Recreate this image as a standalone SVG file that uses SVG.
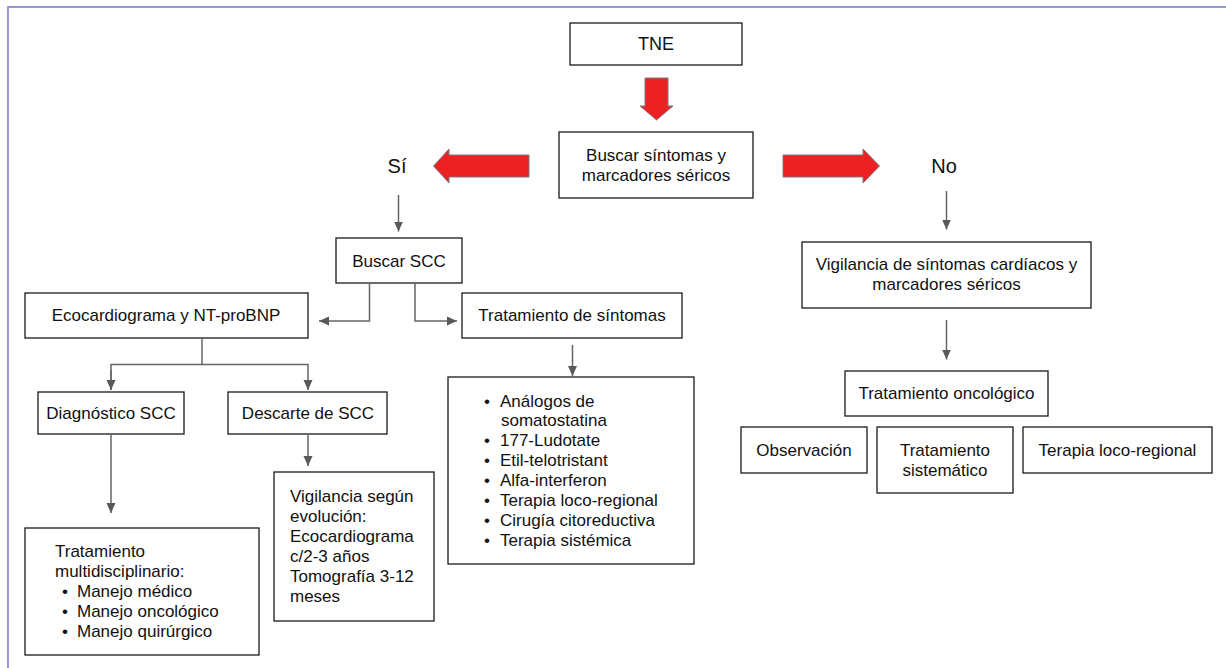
<svg xmlns="http://www.w3.org/2000/svg" width="1226" height="668" viewBox="0 0 1226 668">
<style>
.box{fill:#fff;stroke:#1a1a1a;stroke-width:1.3}
.t{font-family:"Liberation Sans",Arial,sans-serif;font-size:17px;fill:#111}
.c{text-anchor:middle}
.big{font-size:20px}
.red{fill:#ed2024;stroke:#7a7a7a;stroke-width:1}
.con{fill:none;stroke:#666;stroke-width:1.5}
</style>
<defs>
<marker id="ah" markerUnits="userSpaceOnUse" markerWidth="11" markerHeight="10" refX="10" refY="5" orient="auto">
<path d="M0,0.5 L10,5 L0,9.5 Z" fill="#595959"/>
</marker>
</defs>
<rect x="8" y="7" width="1240" height="690" fill="none" stroke="#8d8dd8" stroke-width="1.8"/>

<g id="tne">
<rect class="box" x="570" y="23" width="172" height="42"/>
<text class="t c" x="656" y="50" style="font-size:18px">TNE</text>
</g>
<g id="red-arrows">
<polygon class="red" points="645,78 668,78 668,106 673,106 656.5,120 640,106 645,106"/>
<polygon class="red" points="529,155 449,155 449,149 433.5,166 449,183 449,177 529,177"/>
<polygon class="red" points="783,155 863,155 863,149 879.5,166 863,183 863,177 783,177"/>
</g>
<g id="buscar">
<rect class="box" x="559" y="132" width="194" height="66"/>
<text class="t c" x="656" y="161">Buscar síntomas y</text>
<text class="t c" x="656" y="181">marcadores séricos</text>
</g>
<g id="si"><text class="t c big" x="397" y="173">Sí</text></g>
<g id="no"><text class="t c big" x="944" y="173">No</text></g>

<g id="buscar-scc">
<rect class="box" x="336" y="238" width="126" height="45"/>
<text class="t c" x="399" y="267">Buscar SCC</text>
</g>
<g id="eco">
<rect class="box" x="25" y="293" width="283" height="45"/>
<text class="t c" x="166" y="321">Ecocardiograma y NT-proBNP</text>
</g>
<g id="trat-sintomas">
<rect class="box" x="462" y="293" width="220" height="45"/>
<text class="t c" x="572" y="321">Tratamiento de síntomas</text>
</g>
<g id="diag">
<rect class="box" x="38" y="392" width="146" height="42"/>
<text class="t c" x="111" y="419">Diagnóstico SCC</text>
</g>
<g id="descarte">
<rect class="box" x="228" y="392" width="159" height="42"/>
<text class="t c" x="308" y="419">Descarte de SCC</text>
</g>
<g id="lista-sintomas">
<rect class="box" x="448" y="377" width="246" height="187"/>
<text class="t" x="484" y="407">•</text><text class="t" x="500" y="407">Análogos de</text>
<text class="t" x="501" y="426">somatostatina</text>
<text class="t" x="484" y="446">•</text><text class="t" x="500" y="446">177-Ludotate</text>
<text class="t" x="484" y="466">•</text><text class="t" x="500" y="466">Etil-telotristant</text>
<text class="t" x="484" y="486">•</text><text class="t" x="500" y="486">Alfa-interferon</text>
<text class="t" x="484" y="506">•</text><text class="t" x="500" y="506">Terapia loco-regional</text>
<text class="t" x="484" y="526">•</text><text class="t" x="500" y="526">Cirugía citoreductiva</text>
<text class="t" x="484" y="546">•</text><text class="t" x="500" y="546">Terapia sistémica</text>
</g>
<g id="multidisciplinario">
<rect class="box" x="25" y="528" width="234" height="127"/>
<text class="t" x="55" y="557">Tratamiento</text>
<text class="t" x="55" y="577">multidisciplinario:</text>
<text class="t" x="62" y="597">•</text><text class="t" x="77" y="597">Manejo médico</text>
<text class="t" x="62" y="617">•</text><text class="t" x="77" y="617">Manejo oncológico</text>
<text class="t" x="62" y="637">•</text><text class="t" x="77" y="637">Manejo quirúrgico</text>
</g>
<g id="vigilancia-evolucion">
<rect class="box" x="274" y="472" width="160" height="149"/>
<text class="t" x="290" y="502">Vigilancia según</text>
<text class="t" x="290" y="522">evolución:</text>
<text class="t" x="290" y="542">Ecocardiograma</text>
<text class="t" x="290" y="562">c/2-3 años</text>
<text class="t" x="290" y="582">Tomografía 3-12</text>
<text class="t" x="290" y="602">meses</text>
</g>
<g id="vigilancia-cardiaca">
<rect class="box" x="802" y="242" width="289" height="66"/>
<text class="t c" x="946.5" y="270">Vigilancia de síntomas cardíacos y</text>
<text class="t c" x="946.5" y="290">marcadores séricos</text>
</g>
<g id="trat-oncologico">
<rect class="box" x="845" y="371" width="203" height="45"/>
<text class="t c" x="946.5" y="399">Tratamiento oncológico</text>
</g>
<g id="observacion">
<rect class="box" x="741" y="427" width="126" height="46"/>
<text class="t c" x="804" y="456">Observación</text>
</g>
<g id="trat-sistematico">
<rect class="box" x="877" y="427" width="136" height="66"/>
<text class="t c" x="945" y="456">Tratamiento</text>
<text class="t c" x="945" y="476">sistemático</text>
</g>
<g id="terapia-loco">
<rect class="box" x="1023" y="427" width="189" height="46"/>
<text class="t c" x="1117.5" y="456">Terapia loco-regional</text>
</g>

<g id="connectors">
<path class="con" d="M398.5,195 V231.5" marker-end="url(#ah)"/>
<path class="con" d="M946.5,191 V229.5" marker-end="url(#ah)"/>
<path class="con" d="M369.5,283 V321 H319" marker-end="url(#ah)"/>
<path class="con" d="M415,283 V321 H457" marker-end="url(#ah)"/>
<path class="con" d="M202,338 V364.5"/>
<path class="con" d="M111,390 V364.5 H308 V390" marker-end="url(#ah)"/>
<path class="con" d="M111,370 V390" marker-end="url(#ah)"/>
<path class="con" d="M111,434 V513" marker-end="url(#ah)"/>
<path class="con" d="M308,434 V466" marker-end="url(#ah)"/>
<path class="con" d="M572.5,345 V376" marker-end="url(#ah)"/>
<path class="con" d="M946.5,320 V359.5" marker-end="url(#ah)"/>
</g>
</svg>
